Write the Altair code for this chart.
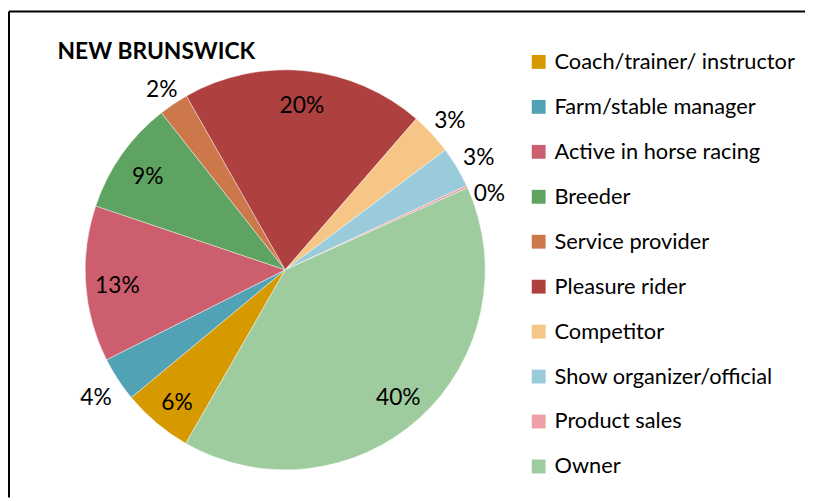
import altair as alt
import pandas as pd
import math

title_text = "NEW BRUNSWICK"
categories = ["Coach/trainer/ instructor", "Farm/stable manager", "Active in horse racing",
              "Breeder", "Service provider", "Pleasure rider", "Competitor",
              "Show organizer/official", "Product sales", "Owner"]
values = [5.7, 3.6, 12.6, 9.2, 2.4, 19.6, 3.4, 3.3, 0.2, 40.0]
colors = ["#D69A00", "#52A2B6", "#CC5E6E", "#5FA362", "#CD784A",
          "#AF4040", "#F5C685", "#9ACBDB", "#EDA0A8", "#9FCC9F"]

df = pd.DataFrame({"category": categories, "value": values, "idx": list(range(len(categories)))})

W, H = 804, 491
start = math.radians(209.8)
theta_scale = alt.Scale(domain=[0, 1], range=[start, start + 2 * math.pi])
FONT = "Lato"
cx, cy = 279, 261
R = 202
R_IN = 170
R_OUT = R + 6
HW, HH = 17, 13
GAP = 36

base = alt.Chart(df).transform_joinaggregate(
    total="sum(value)"
).transform_window(
    cum="sum(value)", sort=[alt.SortField("idx", order="ascending")],
    frame=[None, 0]
).transform_calculate(
    t0="(datum.cum - datum.value) / datum.total",
    t1="datum.cum / datum.total",
    tm="(datum.cum - datum.value / 2) / datum.total",
)

pie = base.mark_arc(stroke="#ffffff", strokeWidth=0.6, strokeOpacity=0.7).encode(
    theta=alt.Theta("t0:Q", scale=theta_scale),
    theta2="t1:Q",
    color=alt.Color("category:N",
                    scale=alt.Scale(domain=categories, range=colors),
                    sort=categories,
                    legend=alt.Legend(title=None, orient="none", legendX=524, legendY=40,
                                      direction="vertical", columns=1,
                                      symbolType="square", symbolSize=196, symbolStrokeWidth=0,
                                      labelFont=FONT, labelFontSize=22, labelColor="#000000",
                                      labelOffset=5, rowPadding=23.4, padding=0,
                                      labelLimit=400)),
    radius=alt.value(R),
    x=alt.value(cx), y=alt.value(cy),
)

lab = base.transform_calculate(
    ang=f"{start} + datum.tm * 2 * PI",
    lbl="format(datum.value, '.0f') + '%'",
).transform_calculate(
    s="sin(datum.ang)", c="cos(datum.ang)",
).transform_calculate(
    tt=f"min({HW} / max(abs(datum.s), 0.001), {HH} / max(abs(datum.c), 0.001))",
    inside="datum.value >= 5",
).transform_calculate(
    lx=f"datum.inside ? {cx} + {R_IN} * datum.s : {cx} + {R_OUT} * datum.s + datum.tt * datum.s",
    ly=f"datum.inside ? {cy} - {R_IN} * datum.c : {cy} - {R_OUT} * datum.c - datum.tt * datum.c",
    side="datum.inside ? 'in' : (datum.s > 0 ? 'right' : 'left')",
).transform_window(
    prev_y="lag(ly)", groupby=["side"], sort=[alt.SortField("tm", order="ascending")]
).transform_calculate(
    fy=f"datum.side == 'right' && datum.prev_y != null ? max(datum.ly, datum.prev_y + {GAP}) : datum.ly"
).mark_text(font=FONT, fontSize=23, color="#000000", align="center", baseline="middle", dy=4).encode(
    x=alt.X("lx:Q", scale=None, axis=None),
    y=alt.Y("fy:Q", scale=None, axis=None),
    text="lbl:N",
)

title = alt.Chart(pd.DataFrame({"t": [title_text]})).mark_text(
    font=FONT, fontSize=23, fontWeight="bold", color="#000000", align="left", baseline="alphabetic"
).encode(text="t:N", x=alt.value(49), y=alt.value(47.7))

frame_df = pd.DataFrame({"k": ["frame"]})
left_edge = alt.Chart(frame_df).mark_rule(color="#000000", strokeWidth=2).encode(
    x=alt.value(0), y=alt.value(0), y2=alt.value(H))
top_edge = alt.Chart(frame_df).mark_rule(color="#000000", strokeWidth=2).encode(
    x=alt.value(0), x2=alt.value(W), y=alt.value(0))

chart = alt.layer(pie, lab, title, left_edge, top_edge).properties(
    width=W, height=H,
    padding={"left": 1, "top": 1, "right": 0, "bottom": 0},
    autosize=alt.AutoSizeParams(type="none"),
).configure_view(strokeWidth=0)

chart.save("out.html", embed_options={"renderer": "svg", "actions": False})
